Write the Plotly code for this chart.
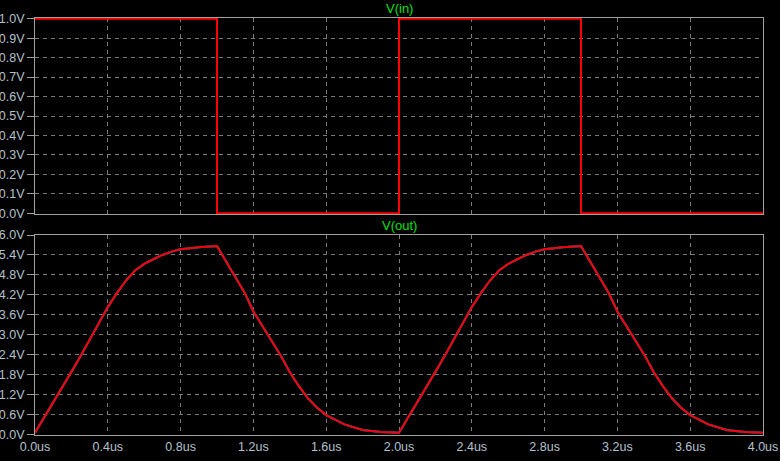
import plotly.graph_objects as go

# V(in) square wave, time in us
t_in = [0.0, 1.0, 1.0, 2.0, 2.0, 3.0, 3.0, 4.0]
v_in = [1.0, 1.0, 0.0, 0.0, 1.0, 1.0, 0.0, 0.0]

# V(out), time in us
t_out = [0.0, 0.05, 0.1, 0.15, 0.2, 0.25, 0.3, 0.35, 0.4, 0.45, 0.5, 0.55, 0.6, 0.65, 0.7, 0.75, 0.8, 0.9, 1.0,
         1.05, 1.1, 1.15, 1.2, 1.25, 1.3, 1.35, 1.4, 1.45, 1.5, 1.55, 1.6, 1.7, 1.8, 1.9, 2.0,
         2.05, 2.1, 2.15, 2.2, 2.25, 2.3, 2.35, 2.4, 2.45, 2.5, 2.55, 2.6, 2.65, 2.7, 2.75, 2.8, 2.9, 3.0,
         3.05, 3.1, 3.15, 3.2, 3.25, 3.3, 3.35, 3.4, 3.45, 3.5, 3.55, 3.6, 3.7, 3.8, 3.9, 4.0]
v_out = [0.05, 0.5, 0.95, 1.42, 1.88, 2.35, 2.83, 3.35, 3.83, 4.25, 4.63, 4.93, 5.13, 5.27, 5.4, 5.5, 5.57, 5.63, 5.67,
         5.2, 4.72, 4.28, 3.7, 3.27, 2.82, 2.37, 1.87, 1.45, 1.08, 0.8, 0.58, 0.3, 0.13, 0.07, 0.05,
         0.5, 0.95, 1.42, 1.88, 2.35, 2.83, 3.35, 3.83, 4.25, 4.63, 4.93, 5.13, 5.27, 5.4, 5.5, 5.57, 5.63, 5.67,
         5.2, 4.72, 4.28, 3.7, 3.27, 2.82, 2.37, 1.87, 1.45, 1.08, 0.8, 0.58, 0.3, 0.13, 0.07, 0.05]

x_ticks = [0.0, 0.4, 0.8, 1.2, 1.6, 2.0, 2.4, 2.8, 3.2, 3.6, 4.0]
y_in_ticks = [0.0, 0.1, 0.2, 0.3, 0.4, 0.5, 0.6, 0.7, 0.8, 0.9, 1.0]
y_out_ticks = [0.0, 0.6, 1.2, 1.8, 2.4, 3.0, 3.6, 4.2, 4.8, 5.4, 6.0]

axis_col = "#a0a0a0"
grid_col = "#7a7a7a"
label_col = "#b4c0cc"
fsize = 12.5

fig = go.Figure()
fig.add_trace(go.Scatter(x=t_in, y=v_in, mode="lines", line=dict(color="#ff0000", width=2),
                         xaxis="x", yaxis="y", showlegend=False))
# three stepped runs drawn on top of each other, red last
for col in ["#00ff00", "#0000ff", "#ff0000"]:
    fig.add_trace(go.Scatter(x=t_out, y=v_out, mode="lines", line=dict(color=col, width=2),
                             xaxis="x2", yaxis="y2", showlegend=False))

common_x = dict(range=[0, 4], tickvals=x_ticks, showline=True, mirror=True, linecolor=axis_col, linewidth=1,
                showgrid=True, gridcolor=grid_col, griddash="4px,4px", gridwidth=1, zeroline=False,
                ticks="", layer="below traces", fixedrange=True, automargin=False,
                tickfont=dict(size=fsize, color=label_col))
common_y = dict(showline=True, mirror=True, linecolor=axis_col, linewidth=1,
                showgrid=True, gridcolor=grid_col, griddash="4px,4px", gridwidth=1, zeroline=False,
                ticks="outside", ticklen=7, tickcolor=axis_col,
                layer="below traces", fixedrange=True, automargin=False,
                tickfont=dict(size=fsize, color=label_col))

fig.update_layout(
    width=780, height=461,
    paper_bgcolor="#000000", plot_bgcolor="#000000",
    margin=dict(l=35, r=17, t=18, b=26),
    font=dict(family="Liberation Sans, Arial, sans-serif", size=fsize, color=label_col),
    xaxis=dict(common_x, domain=[0, 1], anchor="y", showticklabels=False),
    # a hair of headroom so the 0 V / 1 V levels are not clipped away
    yaxis=dict(common_y, domain=[0.53, 1.0], anchor="x", range=[-0.004, 1.004], tickvals=y_in_ticks,
               ticktext=[f"{v:.1f}V" for v in y_in_ticks]),
    xaxis2=dict(common_x, domain=[0, 1], anchor="y2", showticklabels=True,
                ticktext=[f"{v:.1f}us" for v in x_ticks]),
    yaxis2=dict(common_y, domain=[0, 0.4796], anchor="x2", range=[-0.02, 6], tickvals=y_out_ticks,
                ticktext=[f"{v:.1f}V" for v in y_out_ticks]),
    annotations=[
        dict(text="V(in)", x=0.5, y=1.0, xref="paper", yref="paper", xanchor="center", yanchor="bottom",
             showarrow=False, yshift=0, font=dict(color="#00e000", size=13)),
        dict(text="V(out)", x=0.5, y=0.4796, xref="paper", yref="paper", xanchor="center", yanchor="bottom",
             showarrow=False, yshift=0, font=dict(color="#00e000", size=13)),
    ],
)

# the page's default body margin would push the figure 8px off the window
fig.write_html("out.html", config=dict(displayModeBar=False),
               post_script="document.body.style.margin='0';")
